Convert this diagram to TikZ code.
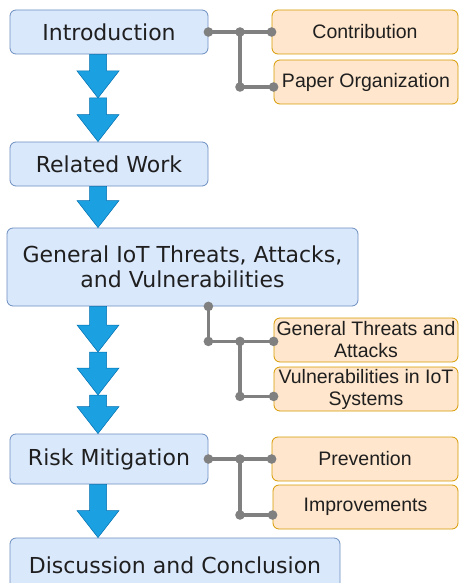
\documentclass[tikz,border=0pt]{standalone}
\usepackage{fontspec}
\setmainfont{DejaVu Sans}
\newfontfamily\subfont{Liberation Sans}
\usepackage{tikz}
\usetikzlibrary{calc}

\definecolor{secfill}{HTML}{DAE8FC}
\definecolor{secline}{HTML}{6C8EBF}
\definecolor{subfill}{HTML}{FFE6CC}
\definecolor{subline}{HTML}{D79B00}
\definecolor{flowblue}{HTML}{1BA1E2}
\definecolor{flowline}{HTML}{006EAF}
\definecolor{linkgray}{HTML}{808080}

\tikzset{
  section/.style={rectangle, rounded corners=6pt, draw=secline, fill=secfill, line width=0.8pt,
    font=\fontsize{22}{25}\selectfont, text=black!88, align=center, inner sep=0pt},
  subsection/.style={rectangle, rounded corners=6pt, draw=subline, fill=subfill, line width=0.8pt,
    font=\subfont\fontsize{19.5}{22}\selectfont, text=black!88, align=center, inner sep=0pt,
    minimum width=184pt, minimum height=44pt},
  flow/.style={fill=flowblue, draw=flowline, line width=0.5pt, to path={
    ($(\tikztostart)+(-8.5,0)$) -- ($(\tikztotarget)+(-8.5,-27)$) -- ($(\tikztotarget)+(-21,-27)$)
    -- (\tikztotarget) -- ($(\tikztotarget)+(21,-27)$) -- ($(\tikztotarget)+(8.5,-27)$)
    -- ($(\tikztostart)+(8.5,0)$) -- cycle}},
  link/.style={draw=linkgray, line width=3.5pt},
  dot/.style={fill=linkgray}
}

\begin{document}
\begin{tikzpicture}[x=1pt, y=-1pt]

    \useasboundingbox (0,0) rectangle (460,583);

    % main sections
    \node[section, minimum width=198pt, minimum height=44pt] (intro) at (109,32) {Introduction};
    \node[section, minimum width=198pt, minimum height=44pt] (related) at (109,164) {Related Work};
    \node[section, minimum width=351pt, minimum height=78pt] (general) at (182.5,267) {General IoT Threats, Attacks,\\and Vulnerabilities};
    \node[section, minimum width=198pt, minimum height=50pt] (risk) at (109,459) {Risk Mitigation};
    \node[section, minimum width=330pt, minimum height=54pt] (discussion) at (175,565) {Discussion and Conclusion};

    % subsections
    \node[subsection, minimum width=186pt] (contrib) at (365,32) {Contribution};
    \node[subsection] (paper) at (366,82) {Paper Organization};
    \node[subsection] (threats) at (366,340) {General Threats and\\Attacks};
    \node[subsection] (vulnsys) at (366,389) {Vulnerabilities in IoT\\Systems};
    \node[subsection, minimum width=186pt] (prevent) at (365,459) {Prevention};
    \node[subsection, minimum width=185pt] (improve) at (365.5,507) {Improvements};

    % flow arrows
    \coordinate (col) at (98,0);
    \coordinate (m1) at (98,98);
    \coordinate (m2) at (98,352);
    \coordinate (m3) at (98,395);
    \path[flow] (col |- intro.south) to (m1);
    \path[flow] (m1) to (col |- related.north);
    \path[flow] (col |- related.south) to (col |- general.north);
    \path[flow] (col |- general.south) to (m2);
    \path[flow] (m2) to (m3);
    \path[flow] (m3) to (col |- risk.north);
    \path[flow] (col |- risk.south) to (col |- discussion.north);

    % links to subsections
    \coordinate (j1) at ($(intro.east)!0.5!(contrib.west)$);
    \draw[link] (intro.east) -- (contrib.west); % intro -> contribution
    \draw[link] (j1) -- ++(0,55) coordinate (c1) -- (c1 -| paper.west); % intro -> organization

    \coordinate (g0) at (intro.east |- general.south);
    \draw[link] (g0) -- ++(0,35) coordinate (g1) -- (g1 -| threats.west); % general -> threats
    \coordinate (j2) at (j1 |- g1);
    \draw[link] (j2) -- ++(0,55) coordinate (c2) -- (c2 -| vulnsys.west); % general -> vulnerabilities

    \coordinate (j3) at ($(risk.east)!0.5!(prevent.west)$);
    \draw[link] (risk.east) -- (prevent.west); % risk -> prevention
    \draw[link] (j3) -- ++(0,56) coordinate (c3) -- (c3 -| improve.west); % risk -> improvements

    \foreach \p in {intro.east, j1, contrib.west, c1, c1 -| paper.west,
                    g0, g1, j2, g1 -| threats.west, c2, c2 -| vulnsys.west,
                    risk.east, j3, prevent.west, c3, c3 -| improve.west}
        \fill[dot] (\p) circle (4.8pt);

\end{tikzpicture}
\end{document}
